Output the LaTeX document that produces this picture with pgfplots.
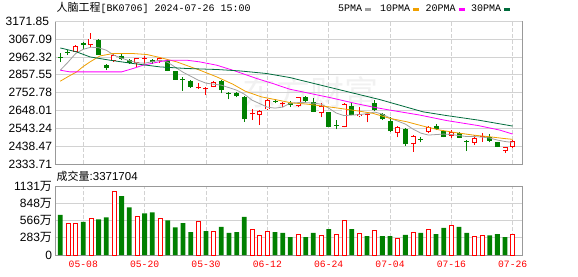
\documentclass[border=0pt]{standalone}
\usepackage{pgfplots}
\pgfplotsset{compat=1.18}
\usepackage{pgfplotstable}
\usepackage{fontspec}
\setmainfont{Liberation Sans}
\newfontfamily\cjk{Noto Sans CJK SC}
\newfontfamily\mono{Liberation Mono}
\definecolor{cred}{HTML}{FF0000}
\definecolor{cgreen}{HTML}{008000}
\definecolor{ma5}{HTML}{A0A0A0}
\definecolor{ma10}{HTML}{F0A000}
\definecolor{ma20}{HTML}{FF00FF}
\definecolor{ma30}{HTML}{006B3C}
\definecolor{framec}{HTML}{999999}
\definecolor{gridc}{HTML}{D2D2D2}

% red (up) candles: index open high low close
\pgfplotstableread{
x o h l c
2 2991.9 3030.0 2989.0 3028.3
4 3031.2 3103.3 3021.2 3070.5
7 2939.2 2982.5 2933.3 2972.6
10 2925.7 2959.1 2904.0 2955.0
11 2950.9 2968.5 2923.9 2956.0
13 2937.4 2959.1 2929.8 2955.0
18 2777.4 2806.7 2773.3 2785.0
19 2771.5 2786.8 2738.1 2780.9
20 2786.8 2820.2 2783.3 2814.3
25 2625.0 2654.3 2591.6 2630.9
26 2620.9 2650.2 2562.3 2646.1
27 2654.3 2712.9 2652.0 2708.8
29 2685.3 2698.8 2667.8 2691.2
31 2673.6 2728.2 2666.0 2724.6
34 2630.9 2689.5 2607.4 2675.4
37 2552.3 2689.5 2548.8 2685.4
39 2615.0 2666.0 2607.4 2626.8
40 2620.9 2630.9 2578.1 2625.9
44 2517.2 2558.2 2490.2 2548.8
46 2450.9 2503.7 2405.8 2499.6
48 2523.0 2558.2 2513.6 2552.3
51 2499.6 2531.2 2484.3 2519.5
54 2458.6 2503.7 2445.0 2484.3
55 2490.2 2513.6 2464.4 2497.7
58 2411.7 2435.2 2400.0 2431.6
59 2435.2 2474.4 2429.3 2470.3
}\redk

% green (down) candles: index open high low close
\pgfplotstableread{
x o h l c
0 2964.5 2984.3 2931.6 2958.5
1 2994.1 3006.0 2972.5 2989.0
3 3044.7 3050.5 3011.8 3031.2
5 3062.2 3066.3 2972.6 2976.7
6 2918.0 2923.9 2884.6 2898.1
8 2968.5 2988.4 2947.4 2953.2
9 2943.3 2953.2 2923.9 2927.4
12 2943.3 2953.2 2923.9 2935.7
14 2943.3 2947.4 2878.8 2880.5
15 2878.8 2880.5 2828.0 2830.0
16 2835.0 2841.9 2763.3 2829.5
17 2821.9 2826.0 2780.9 2786.8
21 2820.2 2826.0 2748.1 2767.4
22 2750.0 2757.4 2712.9 2744.0
23 2748.1 2753.9 2724.6 2732.3
24 2724.6 2732.3 2581.6 2595.7
28 2703.0 2714.7 2689.5 2697.1
30 2691.2 2703.0 2667.8 2679.5
32 2728.2 2732.3 2698.8 2703.0
33 2695.3 2718.8 2638.0 2640.3
35 2636.7 2640.3 2548.8 2552.3
36 2564.1 2591.6 2537.1 2559.0
38 2675.4 2689.5 2619.0 2620.9
41 2691.2 2708.8 2646.1 2653.1
42 2625.0 2630.9 2591.6 2595.7
43 2585.7 2607.4 2523.0 2527.1
45 2538.8 2542.9 2441.0 2449.2
47 2480.2 2493.7 2460.8 2475.0
49 2558.2 2568.2 2533.0 2538.8
50 2527.1 2534.8 2490.2 2493.7
52 2513.6 2522.9 2486.0 2487.8
53 2470.5 2474.4 2409.9 2465.0
56 2493.7 2509.5 2460.8 2470.3
57 2464.4 2465.6 2433.4 2435.2
}\greenk

\pgfplotsset{
  kbase/.style={
    scale only axis, width=467.1pt,
    xmin=-0.665, xmax=60.25,
    xtick={3,11,19,27,35,43,51,59},
    axis line style={draw=framec, line width=0.8pt},
    major tick length=0pt,
    xmajorgrids, ymajorgrids,
    x grid style={draw=gridc, dash pattern=on 4pt off 2pt, line width=0.8pt},
    y grid style={draw=gridc, line width=0.8pt},
    yticklabel style={font=\fontsize{12}{12}\selectfont, inner sep=0pt, xshift=-3pt, anchor=east, text=black},
  },
  candle/.style={draw=none, mark=none, forget plot,
    error bars/.cd, y dir=plus, y explicit, error mark=none,
    error bar style={#1}},
}

\begin{document}
\begin{tikzpicture}
\useasboundingbox (0pt,0pt) rectangle (578pt,276pt);
\node[text=gray!11, font=\cjk\fontsize{34}{34}\selectfont, inner sep=0pt] at (310pt,184pt) {东方财富};
\node[anchor=base west, inner sep=0pt] at (56.5pt,264.3pt) {{\cjk\fontsize{11}{11}\selectfont 人脑工程}{\mono\fontsize{10}{10}\selectfont [BK0706] 2024-07-26 15:00}};
\node[anchor=base west, inner sep=0pt, font=\mono\fontsize{10}{10}\selectfont] at (338pt,264.3pt)
 {5PMA\hspace{3pt}\textcolor{ma5}{\rule[1pt]{6pt}{2.6pt}}\hspace{9pt}10PMA\hspace{3pt}\textcolor{ma10}{\rule[1pt]{6pt}{2.6pt}}\hspace{6.5pt}20PMA\hspace{3pt}\textcolor{ma20}{\rule[1pt]{6pt}{2.6pt}}\hspace{6.5pt}30PMA\hspace{3pt}\textcolor{ma30}{\rule[1pt]{6pt}{2.6pt}}};
\node[anchor=base west, inner sep=0pt] at (56.5pt,95.3pt) {{\cjk\fontsize{11}{11}\selectfont 成交量}{\fontsize{11.5}{11.5}\selectfont :3371704}};

\begin{axis}[kbase, at={(55.2pt,112pt)}, anchor=south west, height=142.7pt,
  ymin=2333.71, ymax=3171.85,
  ytick={2333.72,2438.4775,2543.245,2648.0125,2752.78,2857.5475,2962.315,3067.0825},
  yticklabels={2333.71,2438.47,2543.24,2648.01,2752.78,2857.55,2962.32,3067.09},
  extra y ticks={3171.8},
  extra y tick labels={3171.85},
  extra y tick style={yticklabel style={font=\fontsize{12}{12}\selectfont, inner sep=0pt, xshift=-3pt, anchor=east, text=black}},
  xticklabels={,,,,,,,}]
% wicks
\addplot[candle={draw=cred, line width=1pt}]
  table[x=x, y=l, y error plus expr=\thisrow{h}-\thisrow{l}]{\redk};
\addplot[candle={draw=cgreen, line width=1pt}]
  table[x=x, y=l, y error plus expr=\thisrow{h}-\thisrow{l}]{\greenk};
% bodies
\addplot[candle={draw=cgreen, line width=5pt}]
  table[x=x, y=c, y error plus expr=\thisrow{o}-\thisrow{c}]{\greenk};
\addplot[candle={draw=cred, line width=5pt}]
  table[x=x, y=o, y error plus expr=\thisrow{c}-\thisrow{o}]{\redk};
\addplot[candle={draw=white, line width=3.2pt}]
  table[x=x, y expr=\thisrow{o}+5.3, y error plus expr={max(\thisrow{c}-\thisrow{o}-10.6,0)}]{\redk};
% moving averages
\addplot[ma5, line width=0.8pt, mark=none] coordinates {
(0,2884.7)(1,2931.5)(2,2982.5)(3,3007.7)(4,3019.5)(5,3016.5)(6,3001.9)(7,2972.6)(8,2955.0)(9,2940.3)
(10,2928.6)(11,2925.7)(12,2934.5)(13,2943.3)(14,2931.5)(15,2902.2)(16,2872.9)(17,2849.5)(18,2826.0)(19,2808.5)
(20,2802.6)(21,2796.7)(22,2782.1)(23,2767.4)(24,2744.0)(25,2708.8)(26,2688.3)(27,2667.8)(28,2661.9)(29,2667.8)
(30,2691.2)(31,2694.2)(32,2694.2)(33,2691.2)(34,2685.4)(35,2661.9)(36,2632.6)(37,2618.0)(38,2620.9)(39,2623.8)
(40,2629.7)(41,2638.5)(42,2626.8)(43,2603.3)(44,2585.7)(45,2568.2)(46,2538.8)(47,2515.4)(48,2503.7)(49,2506.6)
(50,2509.5)(51,2506.6)(52,2500.8)(53,2494.9)(54,2494.9)(55,2492.0)(56,2486.1)(57,2474.4)(58,2465.6)(59,2460.9)};
\addplot[ma10, line width=0.8pt, mark=none] coordinates {
(0,2820.2)(1.0,2846.6)(2.14,2874.7)(2.96,2905.2)(3.87,2933.3)(5.18,2968.5)(6.87,2982.5)(9.48,2982.5)
(11.3,2976.7)(13.0,2959.1)(15.2,2933.3)(18.2,2884.6)(20.4,2845.4)(22.5,2802.6)(24.1,2761.6)(26.2,2728.2)
(28.4,2708.8)(30.1,2692.9)(32.2,2685.3)(34.3,2673.6)(36.5,2660.2)(38.7,2646.1)(40.8,2630.9)(43.0,2601.5)
(45.2,2581.6)(47.3,2556.4)(49.5,2533.0)(51.7,2517.2)(53.8,2503.7)(56.0,2493.7)(57.7,2484.3)(59.0,2478.5)};
\addplot[ma20, line width=0.8pt, mark=none] coordinates {
(0,2884.6)(1.26,2874.7)(5.18,2874.7)(8.0,2874.7)(9.74,2898.1)(10.8,2914.0)(13.9,2943.3)(16.5,2943.3)
(18.2,2933.3)(20.4,2914.0)(22.5,2884.6)(25.6,2836.0)(27.7,2806.7)(29.9,2773.3)(35.2,2723.5)(38.6,2688.3)
(40.8,2667.8)(43.0,2650.2)(46.9,2620.9)(50.4,2588.7)(54.5,2559.4)(57.3,2533.0)(59.0,2509.5)};
\addplot[ma30, line width=0.8pt, mark=none] coordinates {
(0,3015.4)(2.14,2992.0)(3.87,2962.7)(6.48,2943.3)(9.48,2924.0)(13.0,2904.0)(16.5,2894.6)(20.4,2888.8)
(23.4,2880.5)(26.9,2865.2)(29.9,2841.8)(36.1,2773.3)(41.7,2711.7)(47.3,2640.2)(50.4,2618.0)(54.5,2591.6)(59.0,2556.4)};
\end{axis}

\begin{axis}[kbase, at={(55.2pt,21pt)}, anchor=south west, height=69pt,
  ymin=0, ymax=1131, ytick={0,283,566,848,1130.9},
  yticklabels={0,283{\cjk 万},566{\cjk 万},848{\cjk 万},1131{\cjk 万}},
  xticklabels={05-08,05-20,05-30,06-12,06-24,07-04,07-16,07-26},
  xticklabel style={font=\mono\fontsize{9.7}{9.7}\selectfont, text=cred, inner sep=0pt, anchor=north, yshift=-6pt},
  ybar]
\addplot[bar shift=0pt, bar width=4pt, draw=cred, fill=white, line width=0.8pt] coordinates {
(1,519)(2,519)(4,601)(7,1038)(10,634)(13,601)(18,552)(20,388)(25,421)(26,322)(27,388)(31,344)
(34,322)(36,344)(37,568)(39,361)(41,410)(44,279)(46,377)(48,421)(51,486)(54,306)(55,322)(59,337)};
\addplot[bar shift=0pt, bar width=4.8pt, draw=none, fill=cgreen] coordinates {
(0,656)(3,541)(5,585)(6,617)(8,967)(9,781)(11,683)(12,699)(14,568)(15,453)(16,524)(17,377)
(19,393)(21,459)(22,361)(23,377)(24,623)(28,377)(29,361)(30,295)(32,295)(33,361)(35,426)(38,426)
(40,311)(42,311)(43,311)(45,328)(47,361)(49,344)(50,443)(52,459)(53,361)(56,322)(57,344)(58,295)};
\end{axis}
\end{tikzpicture}
\end{document}
